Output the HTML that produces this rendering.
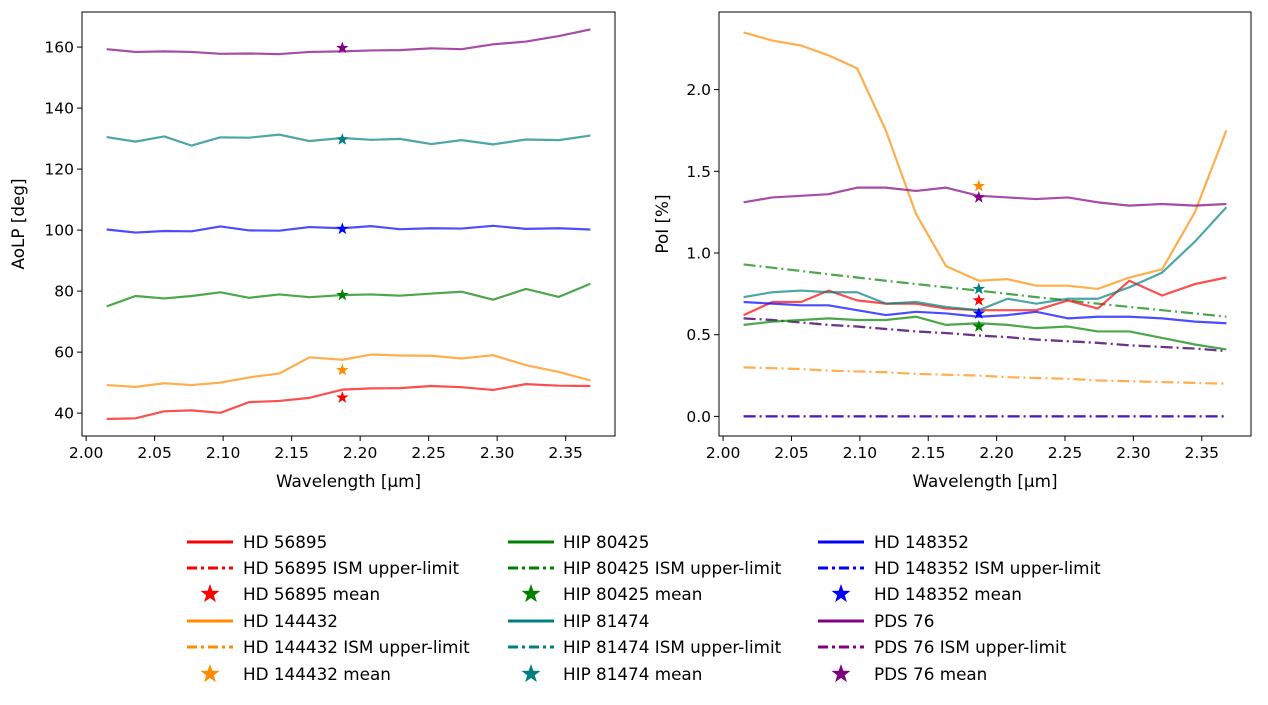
<!DOCTYPE html>
<html><head><meta charset="utf-8">
<style>
html,body{margin:0;padding:0;background:#fff;}
svg{display:block;font-family:"DejaVu Sans","Liberation Sans",sans-serif;}
</style></head>
<body>
<svg id="fig" width="1268" height="705" viewBox="0 0 1268 705" xmlns="http://www.w3.org/2000/svg"></svg>
<script>
const wavelengths = [2.015,2.036,2.057,2.077,2.098,2.119,2.141,2.163,2.187,2.208,2.229,2.252,2.274,2.297,2.321,2.345,2.368];
const meanWavelength = 2.187;
const xTicks = [2.00,2.05,2.10,2.15,2.20,2.25,2.30,2.35];
const aolpTicks = [40,60,80,100,120,140,160];
const poiTicks = [0.0,0.5,1.0,1.5,2.0];
const starNames = ["HD 56895","HIP 80425","HD 148352","HD 144432","HIP 81474","PDS 76"];
const starColors = ["#ff0000","#008000","#0000ff","#ff8c00","#008080","#800080"];
const aolpRed = [38.1,38.3,40.6,40.9,40.1,43.6,44.0,45.0,47.7,48.1,48.2,48.9,48.5,47.6,49.5,49.0,48.9];
const aolpGreen = [75.0,78.4,77.6,78.4,79.6,77.8,78.9,78.0,78.7,78.9,78.5,79.2,79.8,77.2,80.7,78.1,82.4];
const aolpBlue = [100.2,99.2,99.7,99.6,101.2,99.9,99.8,101.0,100.6,101.3,100.3,100.6,100.5,101.4,100.4,100.6,100.2];
const aolpOrange = [49.2,48.6,49.8,49.2,50.0,51.7,53.0,58.3,57.5,59.2,58.9,58.8,57.9,59.0,55.7,53.5,50.7];
const aolpTeal = [130.5,129.0,130.7,127.7,130.4,130.3,131.3,129.2,130.2,129.6,129.9,128.2,129.5,128.1,129.7,129.5,131.0];
const aolpPurple = [159.3,158.4,158.6,158.4,157.8,157.9,157.7,158.4,158.6,158.9,159.0,159.6,159.3,160.9,161.8,163.6,165.8];
const aolpMeans = [45.1,78.7,100.4,54.1,129.7,159.7];
const poiRed = [0.62,0.70,0.70,0.77,0.71,0.69,0.69,0.66,0.65,0.65,0.65,0.71,0.66,0.83,0.74,0.81,0.85];
const poiGreen = [0.56,0.58,0.59,0.60,0.59,0.59,0.61,0.56,0.57,0.56,0.54,0.55,0.52,0.52,0.48,0.44,0.41];
const poiBlue = [0.70,0.69,0.68,0.68,0.65,0.62,0.64,0.63,0.61,0.62,0.64,0.60,0.61,0.61,0.60,0.58,0.57];
const poiOrange = [2.35,2.30,2.27,2.21,2.13,1.75,1.24,0.92,0.83,0.84,0.80,0.80,0.78,0.85,0.90,1.25,1.75];
const poiTeal = [0.73,0.76,0.77,0.76,0.76,0.69,0.70,0.67,0.65,0.72,0.69,0.72,0.72,0.79,0.88,1.07,1.28];
const poiPurple = [1.31,1.34,1.35,1.36,1.40,1.40,1.38,1.40,1.35,1.34,1.33,1.34,1.31,1.29,1.30,1.29,1.30];
const poiMeans = [0.71,0.55,0.63,1.41,0.78,1.34];
const ismRed = [0,0,0,0,0,0,0,0,0,0,0,0,0,0,0,0,0];
const ismGreen = [0.93,0.91,0.89,0.87,0.85,0.83,0.81,0.79,0.77,0.75,0.73,0.71,0.69,0.67,0.65,0.63,0.61];
const ismBlue = [0,0,0,0,0,0,0,0,0,0,0,0,0,0,0,0,0];
const ismOrange = [0.30,0.295,0.29,0.28,0.275,0.27,0.26,0.255,0.25,0.24,0.235,0.23,0.22,0.215,0.21,0.205,0.20];
const ismTeal = [0.60,0.59,0.575,0.56,0.55,0.535,0.52,0.51,0.495,0.485,0.47,0.46,0.45,0.435,0.425,0.415,0.40];
const ismPurple = [0.60,0.59,0.575,0.56,0.55,0.535,0.52,0.51,0.495,0.485,0.47,0.46,0.45,0.435,0.425,0.415,0.40];

const NS="http://www.w3.org/2000/svg";
const svg=document.getElementById('fig');
function mk(tag,attrs,parent){const e=document.createElementNS(NS,tag);for(const k in attrs)e.setAttribute(k,attrs[k]);(parent||svg).appendChild(e);return e;}
function starPath(cx,cy,r){let d="";for(let i=0;i<10;i++){const a=-Math.PI/2+i*Math.PI/5;const rr=i%2?r*0.4:r;d+=(i?"L":"M")+(cx+rr*Math.cos(a)).toFixed(2)+","+(cy+rr*Math.sin(a)).toFixed(2);}return d+"Z";}
const DASHDOT="12,4,2,4";

function makeAxes(name,left,right,top,bottom,xmin,xmax,ymin,ymax,yTicks,yFmt,ylabel,ylabelX){
  const g=mk('g',{});
  
  
  const sx=v=>left+(v-xmin)/(xmax-xmin)*(right-left);
  const sy=v=>bottom-(v-ymin)/(ymax-ymin)*(bottom-top);
  xTicks.forEach(t=>{const x=sx(t);
    mk('line',{x1:x,x2:x,y1:bottom,y2:bottom+5,stroke:'#000','stroke-width':1},g);
    const tx=mk('text',{x:x,y:bottom+22,'text-anchor':'middle','font-size':15.5,fill:'#000'},g);tx.textContent=t.toFixed(2);
    
    });
  yTicks.forEach(t=>{const y=sy(t);
    mk('line',{x1:left-5,x2:left,y1:y,y2:y,stroke:'#000','stroke-width':1},g);
    const tx=mk('text',{x:left-8,y:y+5.5,'text-anchor':'end','font-size':15.5,fill:'#000'},g);tx.textContent=yFmt(t);
    
    });
  const xl=mk('text',{x:(left+right)/2,y:bottom+51,'text-anchor':'middle','font-size':16.8,fill:'#000'},g);xl.textContent='Wavelength [µm]';
  
  
  const yl=mk('text',{x:ylabelX,y:(top+bottom)/2,'text-anchor':'middle','font-size':16.8,fill:'#000',transform:`rotate(-90 ${ylabelX} ${(top+bottom)/2})`},g);yl.textContent=ylabel;
  
  
  return {g,sx,sy,left,right,top,bottom};
}
function series(ax,vals,color,dash,name,alpha){
  const d=vals.map((v,i)=>(i?"L":"M")+ax.sx(wavelengths[i]).toFixed(2)+","+ax.sy(v).toFixed(2)).join("");
  const p=mk('path',{d:d,fill:'none',stroke:color,'stroke-width':2.2,'stroke-opacity':alpha,'stroke-linejoin':'round'},ax.g);
  if(dash)p.setAttribute('stroke-dasharray',dash);
  
  
}
function star(ax,v,color,name){
  const p=mk('path',{d:starPath(ax.sx(meanWavelength),ax.sy(v),6.5),fill:color},ax.g);
  
  
}
function frame(ax){
  const r=mk('rect',{x:ax.left,y:ax.top,width:ax.right-ax.left,height:ax.bottom-ax.top,fill:'none',stroke:'#000','stroke-width':1},ax.g);
  
  
}

const axL=makeAxes('aolp-chart',82,615,12,436,1.997,2.386,32.5,171.5,aolpTicks,t=>String(t),'AoLP [deg]',24);
const aolpSeries=[aolpRed,aolpGreen,aolpBlue,aolpOrange,aolpTeal,aolpPurple];
aolpSeries.forEach((s,i)=>series(axL,s,starColors[i],null,'aolp-line-'+starNames[i].toLowerCase().replace(/ /g,'-'),0.7));
aolpMeans.forEach((m,i)=>star(axL,m,starColors[i],'aolp-mean-'+starNames[i].toLowerCase().replace(/ /g,'-')));
frame(axL);

const axR=makeAxes('poi-chart',719,1251,12,436,1.997,2.386,-0.12,2.475,poiTicks,t=>t.toFixed(1),'PoI [%]',668);
const ismSeries=[ismRed,ismGreen,ismBlue,ismOrange,ismTeal,ismPurple];
ismSeries.forEach((s,i)=>series(axR,s,starColors[i],DASHDOT,'ism-limit-'+starNames[i].toLowerCase().replace(/ /g,'-'),0.7));
const poiSeries=[poiRed,poiGreen,poiBlue,poiOrange,poiTeal,poiPurple];
poiSeries.forEach((s,i)=>series(axR,s,starColors[i],null,'poi-line-'+starNames[i].toLowerCase().replace(/ /g,'-'),0.7));
poiMeans.forEach((m,i)=>star(axR,m,starColors[i],'poi-mean-'+starNames[i].toLowerCase().replace(/ /g,'-')));
frame(axR);

const lg=mk('g',{});


const colX=[[187,243],[508,563],[818,874]];
const rowY=[542,568,594,621,647,674];
starNames.forEach((n,i)=>{
  const col=i%3, block=Math.floor(i/3);
  const [lx,tx]=colX[col];
  const c=starColors[i];
  const y0=rowY[block*3],y1=rowY[block*3+1],y2=rowY[block*3+2];
  const l1=mk('line',{x1:lx,x2:lx+46,y1:y0,y2:y0,stroke:c,'stroke-width':3},lg);
  
  
  const t1=mk('text',{x:tx,y:y0+6,'font-size':16.8,fill:'#000'},lg);t1.textContent=n;
  
  
  const l2=mk('line',{x1:lx,x2:lx+46,y1:y1,y2:y1,stroke:c,'stroke-width':3,'stroke-dasharray':'10,4,3,4'},lg);
  
  
  const t2=mk('text',{x:tx,y:y1+6,'font-size':16.8,fill:'#000'},lg);t2.textContent=n+' ISM upper-limit';
  
  
  const s=mk('path',{d:starPath(lx+23,y2,10),fill:c},lg);
  
  
  const t3=mk('text',{x:tx,y:y2+6,'font-size':16.8,fill:'#000'},lg);t3.textContent=n+' mean';
  
  
});
</script>
</body></html>
